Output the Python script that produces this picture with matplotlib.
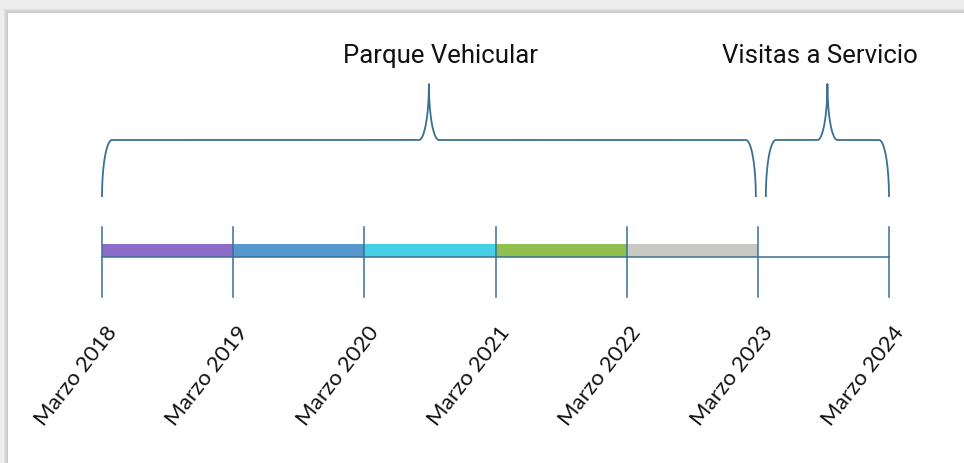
import numpy as np
import matplotlib.pyplot as plt
from matplotlib.patches import Rectangle

# timeline data
years = [2018, 2019, 2020, 2021, 2022, 2023, 2024]
tick_labels = ["Marzo 2018", "Marzo 2019", "Marzo 2020", "Marzo 2021",
               "Marzo 2022", "Marzo 2023", "Marzo 2024"]
segment_start = [2018, 2019, 2020, 2021, 2022]
segment_end = [2019, 2020, 2021, 2022, 2023]
segment_colors = ["#8d6bc8", "#5498cf", "#45d0e8", "#8fbf4f", "#c8c9c5"]

# braces: (start year, end year, label)
brace_start = [2018, 2023]
brace_end = [2023, 2024]
brace_labels = ["Parque Vehicular", "Visitas a Servicio"]

line_color = "#3b6f91"

W, H = 964, 464
fig = plt.figure(figsize=(W / 100, H / 100), dpi=100, facecolor="#ededed")
ax = fig.add_axes([0, 0, 1, 1])
ax.set_facecolor("#ededed")

# map years to pixels: 2018 -> 102 px, 2024 -> 889 px
px_per_year = (889 - 102) / 6
ax.set_xlim(2018 - 102 / px_per_year, 2024 + (W - 889) / px_per_year)
ax.set_ylim(H, 0)
ax.axis("off")

def px(n):
    """pixel width -> year units"""
    return n / px_per_year

# white card with soft shadow
for i, a in enumerate([0.03, 0.03, 0.04, 0.05]):
    ax.add_patch(Rectangle((ax.get_xlim()[0] + px(7 - i), 13 - i), px(W), H,
                           facecolor="black", alpha=a, lw=0, zorder=0))
ax.add_patch(Rectangle((ax.get_xlim()[0] + px(8), 14), px(W), H,
                       facecolor="white", lw=0, zorder=1))

# colored bars
bar_top, bar_bottom = 245, 258
for s, e, c in zip(segment_start, segment_end, segment_colors):
    ax.add_patch(Rectangle((s, bar_top), e - s, bar_bottom - bar_top,
                           facecolor=c, lw=0, zorder=2))

# baseline and ticks
ax.plot([years[0], years[-1]], [bar_bottom, bar_bottom], color=line_color,
        lw=1.1, zorder=3)
for y in years:
    ax.plot([y, y], [228, 298], color=line_color, lw=1.1, zorder=3)

# rotated tick labels
for y, lab in zip(years, tick_labels):
    ax.text(y - px(26), 376, lab, rotation=52, ha="center", va="center",
            fontsize=16, family="Lato", color="#111111", zorder=4)

# curly braces
def brace(x0, x1, y_top=141, y_bot=198, y_peak=85, w=10, cw=10):
    xm = (x0 + x1) / 2
    h = y_bot - y_top
    t = np.linspace(np.pi, np.pi / 2, 40)
    # left end
    lx = x0 + px(w) + px(w) * np.cos(t)
    ly = y_bot - h * np.sin(t)
    # cusp rising to peak
    p = np.linspace(0, np.pi / 2, 40)
    cx = xm - px(cw) + px(cw) * np.sin(p)
    cy = y_peak + (y_top - y_peak) * np.cos(p)
    xs = np.concatenate([lx, cx])
    ys = np.concatenate([ly, cy])
    xs_full = np.concatenate([xs, (2 * xm - xs)[::-1]])
    ys_full = np.concatenate([ys, ys[::-1]])
    ax.plot(xs_full, ys_full, color=line_color, lw=1.3, zorder=3,
            solid_capstyle="butt")
    return xm

label_dx = [12, -8]
for s, e, lab, dx in zip(brace_start, brace_end, brace_labels, label_dx):
    if s == 2023:
        s = s + px(8)
    else:
        e = e - px(2)
    xm = brace(s, e)
    ax.text(xm + px(dx), 56, lab, ha="center", va="center", fontsize=18.5,
            family="Roboto", color="#111111", zorder=4)

fig.savefig("out.png", dpi=100, facecolor=fig.get_facecolor())
